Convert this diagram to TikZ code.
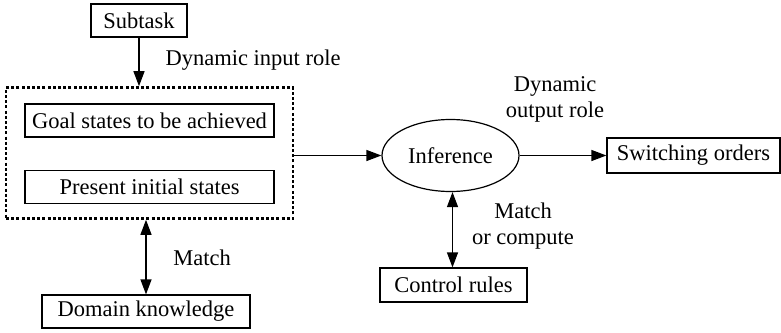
\documentclass[tikz,border=0pt]{standalone}
\usepackage{fontspec}
\setmainfont{Liberation Serif}
\usetikzlibrary{arrows.meta,shapes.geometric}
\begin{document}
\begin{tikzpicture}[x=1pt,y=1pt,
  font=\fontsize{22.5}{26}\selectfont,
  line width=1.2pt,
  >={Triangle[length=15pt,width=11pt]},
  box/.style={draw,rectangle,inner sep=0pt,minimum width=#1,minimum height=33pt},
  grp/.style={draw,rectangle,inner sep=0pt,line width=2.6pt,dash pattern=on 3pt off 2.2pt},
  lbl/.style={inner sep=0pt,align=center}]
\useasboundingbox (0,0) rectangle (781,-332);

% boxes
\node[box=96pt]  (sub)  at (139,-20.5)  {Subtask};
\node[grp,minimum width=287pt,minimum height=131pt] (group) at (149.5,-153) {};
\node[box=249pt] (goal) at (149.5,-120.5) {Goal states to be achieved};
\node[box=249pt] (pres) at (149.5,-187) {Present initial states};
\node[box=208pt] (dom)  at (146,-311.5) {Domain knowledge};
\node[draw,ellipse,inner sep=0pt,minimum width=137pt,minimum height=72pt] (inf) at (450.5,-155.5) {Inference};
\node[box=173pt,minimum height=35pt] (sw) at (693.5,-155.5) {Switching orders};
\node[box=147pt,minimum height=34pt] (ctl) at (453.5,-285) {Control rules};

% labels
\node[lbl,anchor=west] (lin) at (165,-60) {Dynamic input role};
\node[lbl] (lout) at (555,-99.5) {Dynamic\\output role};
\node[lbl] (lmatch) at (202,-258) {Match};
\node[lbl] (lcomp) at (523,-226) {Match\\or compute};

% connectors
\draw[->] (sub.south) -- (sub.south |- group.north);
\draw[<->] (dom.north) -- (dom.north |- group.south);
\draw[->] (group.east |- inf.west) -- (inf.west);
\draw[->] (inf.east) -- (sw.west |- inf.east);
\draw[<->] ([xshift=2pt]inf.south) -- ([xshift=2pt]inf.south |- ctl.north);
\end{tikzpicture}
\end{document}
